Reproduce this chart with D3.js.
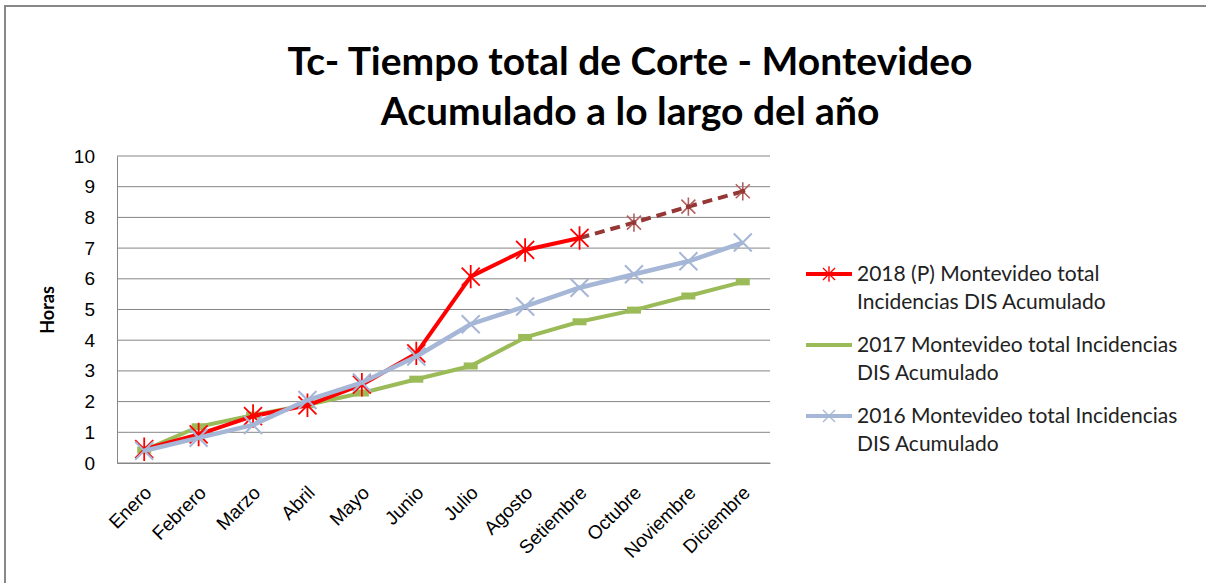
<!DOCTYPE html>
<html>
<head>
<meta charset="utf-8">
<script src="https://cdn.jsdelivr.net/npm/d3@7"></script>
<style>
  body { margin: 0; background: #fff; }
  svg { font-family: Lato, "Open Sans", sans-serif; display: block; }
</style>
</head>
<body>
<svg id="chart" width="1206" height="583"></svg>
<script>
const months = ["Enero", "Febrero", "Marzo", "Abril", "Mayo", "Junio", "Julio", "Agosto", "Setiembre", "Octubre", "Noviembre", "Diciembre"];
const yTicks = [0, 1, 2, 3, 4, 5, 6, 7, 8, 9, 10];
// 2018 real values (Enero..Setiembre) and projection (Setiembre..Diciembre)
const v2018 = [0.45, 0.93, 1.53, 1.88, 2.55, 3.57, 6.07, 6.94, 7.33];
const v2018proj = [7.33, 7.83, 8.35, 8.85];
const v2017 = [0.42, 1.18, 1.56, 1.9, 2.28, 2.73, 3.16, 4.09, 4.6, 4.98, 5.44, 5.9];
const v2016 = [0.4, 0.82, 1.24, 2.05, 2.62, 3.47, 4.52, 5.1, 5.71, 6.15, 6.57, 7.18];
const legendLines = [
    ["2018 (P) Montevideo total", "Incidencias DIS Acumulado"],
    ["2017 Montevideo total Incidencias", "DIS Acumulado"],
    ["2016 Montevideo total Incidencias", "DIS Acumulado"]
];

let svg = d3.select("#chart");
let margin = {top: 156, left: 117};
let width = 653, height = 307;

// outer chart border (right and bottom are cut off in the picture)
svg.append("path")
    .attr("d", "M5,590 L5,6 L1210,6")
    .attr("fill", "none")
    .attr("stroke", "#888")
    .attr("stroke-width", 2);

// title
let title = svg.append("text")
    .attr("text-anchor", "middle")
    .attr("font-weight", "bold")
    .attr("font-size", 39)
    .attr("fill", "#000");
title.append("tspan").attr("x", 630).attr("y", 75).text("Tc- Tiempo total de Corte - Montevideo");
title.append("tspan").attr("x", 630).attr("y", 125).text("Acumulado a lo largo del año");

let x = d3.scalePoint().domain(months).range([0, width]).padding(0.5);
let y = d3.scaleLinear().domain([0, 10]).range([height, 0]);

let plot = svg.append("g")
    .attr("transform", "translate(" + margin.left + "," + margin.top + ")");

// gridlines
plot.selectAll(".grid").data(yTicks).enter()
    .append("line")
    .attr("class", "grid")
    .attr("x1", 0).attr("x2", width)
    .attr("y1", d => y(d)).attr("y2", d => y(d))
    .attr("stroke", "#868686")
    .attr("stroke-width", 1);

// y axis
let yAxis = plot.append("g")
    .call(d3.axisLeft(y).tickValues(yTicks).tickSize(0).tickPadding(22));
yAxis.select(".domain").attr("stroke", "#868686");
yAxis.selectAll("text").attr("font-size", 19).attr("fill", "#000");

// x axis
let xAxis = plot.append("g")
    .attr("transform", "translate(0," + height + ")")
    .call(d3.axisBottom(x).tickSize(0));
xAxis.select(".domain").attr("stroke", "#868686");
xAxis.selectAll("text")
    .attr("font-size", 19)
    .attr("fill", "#000")
    .attr("text-anchor", "end")
    .attr("dy", 0)
    .attr("y", 0)
    .attr("transform", "translate(8,31) rotate(-45)");

svg.append("text")
    .attr("transform", "translate(54,310) rotate(-90)")
    .attr("text-anchor", "middle")
    .attr("font-weight", "bold")
    .attr("font-size", 18)
    .text("Horas");

let line = d3.line()
    .x(d => x(d.m))
    .y(d => y(d.v));

function toPoints(vals, offset) {
    return vals.map((v, i) => ({m: months[i + offset], v: v}));
}

let p2016 = toPoints(v2016, 0);
let p2017 = toPoints(v2017, 0);
let p2018 = toPoints(v2018, 0);
let pProj = toPoints(v2018proj, 8);

function star(g, cx, cy, r, color, w) {
    let d = "M" + (cx - r) + "," + (cy - r) + "L" + (cx + r) + "," + (cy + r) +
        "M" + (cx - r) + "," + (cy + r) + "L" + (cx + r) + "," + (cy - r) +
        "M" + cx + "," + (cy - r * 1.3) + "L" + cx + "," + (cy + r * 1.3);
    g.append("path").attr("d", d).attr("stroke", color).attr("stroke-width", w).attr("fill", "none");
}
function cross(g, cx, cy, r, color, w) {
    let d = "M" + (cx - r) + "," + (cy - r) + "L" + (cx + r) + "," + (cy + r) +
        "M" + (cx - r) + "," + (cy + r) + "L" + (cx + r) + "," + (cy - r);
    g.append("path").attr("d", d).attr("stroke", color).attr("stroke-width", w).attr("fill", "none");
}

// 2017 green
plot.append("path").datum(p2017)
    .attr("d", line).attr("fill", "none")
    .attr("stroke", "#9BBB59").attr("stroke-width", 4).attr("stroke-linejoin", "round");
plot.selectAll(".dash17").data(p2017).enter()
    .append("rect").attr("class", "dash17")
    .attr("x", d => x(d.m) - 7).attr("y", d => y(d.v) - 3.5)
    .attr("width", 14).attr("height", 7)
    .attr("fill", "#9BBB59");

// 2018 red
let g18 = plot.append("g");
g18.append("path").datum(p2018)
    .attr("d", line).attr("fill", "none")
    .attr("stroke", "#FF0000").attr("stroke-width", 4).attr("stroke-linejoin", "round");
g18.append("path").datum(pProj)
    .attr("d", line).attr("fill", "none")
    .attr("stroke", "#953735").attr("stroke-width", 4)
    .attr("stroke-dasharray", "10,6");
pProj.slice(1).forEach(d => star(g18, x(d.m), y(d.v), 7, "#B3615F", 1.6));
pProj.slice(1).forEach(d => g18.append("circle").attr("cx", x(d.m)).attr("cy", y(d.v)).attr("r", 2.5).attr("fill", "#953735"));
p2018.forEach(d => star(g18, x(d.m), y(d.v), 9, "#FF0000", 1.8));

// 2016 blue
let g16 = plot.append("g");
g16.append("path").datum(p2016)
    .attr("d", line).attr("fill", "none")
    .attr("stroke", "#A5B6D6").attr("stroke-width", 4.5).attr("stroke-linejoin", "round");
p2016.forEach(d => cross(g16, x(d.m), y(d.v), 9, "#A5B6D6", 2));

// legend
let legend = svg.selectAll(".legend")
    .data(legendLines).enter()
    .append("g")
    .attr("class", "legend")
    .attr("transform", (d, i) => "translate(806," + (274 + i * 71) + ")");

legend.append("line")
    .attr("x1", 0).attr("x2", 46).attr("y1", 0).attr("y2", 0)
    .attr("stroke", (d, i) => ["#FF0000", "#9BBB59", "#A5B6D6"][i])
    .attr("stroke-width", 4);
star(legend.filter((d, i) => i === 0), 23, 0, 6, "#FF0000", 1.4);
cross(legend.filter((d, i) => i === 2), 23, 0, 6, "#A5B6D6", 1.4);

legend.append("text")
    .attr("x", 51)
    .attr("y", 0)
    .attr("font-size", 21)
    .attr("fill", "#222")
    .selectAll("tspan").data(d => d).enter()
    .append("tspan")
    .attr("x", 51)
    .attr("dy", (d, i) => i === 0 ? "0.35em" : 28)
    .text(d => d);
</script>
</body>
</html>
